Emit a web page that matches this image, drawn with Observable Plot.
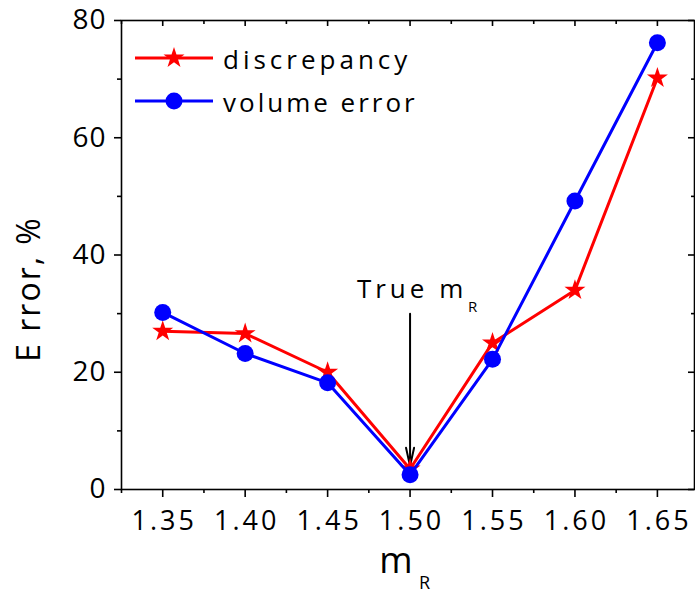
<!DOCTYPE html>
<html><head><meta charset="utf-8">
<script src="https://cdn.jsdelivr.net/npm/d3@7"></script>
<script src="https://cdn.jsdelivr.net/npm/@observablehq/plot@0.6"></script>
<style>
body{margin:0;background:#fff}
#chart{position:relative;width:695px;height:593px}
</style>
</head><body><div id="chart"></div>
<script>
// ---- data ----
const mR = [1.35, 1.40, 1.45, 1.50, 1.55, 1.60, 1.65];
const discrepancy = [27.0, 26.6, 20.0, 3.5, 25.0, 34.0, 70.2];
const volumeError = [30.2, 23.2, 18.2, 2.5, 22.2, 49.2, 76.2];
const seriesNames = ["discrepancy", "volume error"];
const seriesColors = ["#ff0000", "#0000ff"];
const xMajor = [1.35, 1.40, 1.45, 1.50, 1.55, 1.60, 1.65];
const xMinor = [1.325, 1.375, 1.425, 1.475, 1.525, 1.575, 1.625];
const yMajor = [0, 20, 40, 60, 80];
const yMinor = [10, 30, 50, 70];
const xTitle = "m";
const xTitleSub = "R";
const yTitle = "E rror, %";
const annotText = "True m";
const annotSub = "R";
const annotX = 1.50;
const annotTop = 30;
const annotTip = 4.0;
const annotTextY = 32.6;

// ---- layout ----
const W = 695, H = 593, mL = 121, mT = 20, mB = 104, mRgt = 1;
const innerW = W - mL - mRgt, innerH = H - mT - mB;
const FONT = "'Open Sans', sans-serif";

const rows = mR.map((m, i) => ({m, d: discrepancy[i], v: volumeError[i]}));

const plot = Plot.plot({
  width: W, height: H,
  marginLeft: mL, marginTop: mT, marginBottom: mB, marginRight: mRgt,
  style: {fontFamily: FONT, fontSize: "27px", color: "black", background: "white", overflow: "visible"},
  x: {domain: [1.325, 1.6725]},
  y: {domain: [0, 80]},
  marks: [
    Plot.frame({stroke: "black", strokeWidth: 1.6}),
    Plot.axisX(xMajor, {anchor: "bottom", tickSize: 8, tickPadding: 13, strokeWidth: 1.6,
      tickFormat: d => d.toFixed(2), label: null, fontSize: 27}),
    Plot.axisX(xMinor, {anchor: "bottom", tickSize: 4, strokeWidth: 1.6, tickFormat: () => "", label: null}),
    Plot.axisY(yMajor, {anchor: "left", tickSize: 7, tickPadding: 8, strokeWidth: 1.6,
      tickFormat: d => String(d), label: null, fontSize: 28}),
    Plot.axisY(yMinor, {anchor: "left", tickSize: 4, strokeWidth: 1.6, tickFormat: () => "", label: null}),
    Plot.tickX(xMajor, {x: d => d, insetBottom: innerH - 6, strokeWidth: 1.6}),
    Plot.tickX(xMinor, {x: d => d, insetBottom: innerH - 4, strokeWidth: 1.6}),
    Plot.tickY(yMajor, {y: d => d, insetLeft: innerW - 6, strokeWidth: 1.6}),
    Plot.tickY(yMinor, {y: d => d, insetLeft: innerW - 3, strokeWidth: 1.6}),
    Plot.arrow([0], {x1: () => annotX, x2: () => annotX, y1: () => annotTop, y2: () => annotTip,
      stroke: "black", strokeWidth: 2, headLength: 14, headAngle: 25}),
    Plot.text([0], {x: () => annotX, y: () => annotTextY, text: () => annotText, lineAnchor: "bottom",
      textAnchor: "middle", fontSize: 26, dx: 2}),
    Plot.text([0], {x: () => annotX, y: () => annotTextY, text: () => annotSub, lineAnchor: "bottom",
      textAnchor: "start", fontSize: 15, dx: 58, dy: 14}),
    Plot.line(rows, {x: "m", y: "d", stroke: seriesColors[0], strokeWidth: 3}),
    Plot.dot(rows, {x: "m", y: "d", symbol: "star", r: 6.6, fill: seriesColors[0], stroke: "none"}),
    Plot.line(rows, {x: "m", y: "v", stroke: seriesColors[1], strokeWidth: 3}),
    Plot.dot(rows, {x: "m", y: "v", symbol: "circle", r: 8.5, fill: seriesColors[1], stroke: "none"})
  ]
});
document.getElementById("chart").appendChild(plot);

const svg = d3.select(plot);
svg.selectAll('g[aria-label="x-axis tick label"] text').attr("letter-spacing", "3px").attr("dx", "1.5");
svg.selectAll('g[aria-label="y-axis tick label"] text').attr("letter-spacing", "1px");
svg.selectAll('g[aria-label="text"] text').filter(function(){ return this.textContent === annotText; })
  .attr("letter-spacing", "4px");

// ---- axis titles & legend ----
svg.append("text").attr("transform", "translate(40,289) rotate(-90)")
  .attr("text-anchor", "middle").attr("font-family", FONT).attr("font-size", 32)
  .attr("letter-spacing", "2px").attr("fill", "black").text(yTitle);
svg.append("text").attr("x", 396).attr("y", 573).attr("text-anchor", "middle")
  .attr("font-family", FONT).attr("font-size", 36).attr("fill", "black").text(xTitle);
svg.append("text").attr("x", 419).attr("y", 589).attr("text-anchor", "start")
  .attr("font-family", FONT).attr("font-size", 18).attr("fill", "black").text(xTitleSub);

const legendSymbols = [d3.symbolStar, d3.symbolCircle];
const legendSizes = [6.6 * 6.6 * Math.PI, 8.5 * 8.5 * Math.PI];
const legendY = [58, 101];
seriesNames.forEach((name, i) => {
  const g = svg.append("g");
  g.append("line").attr("x1", 135).attr("x2", 213).attr("y1", legendY[i]).attr("y2", legendY[i])
    .attr("stroke", seriesColors[i]).attr("stroke-width", 3);
  g.append("path").attr("transform", `translate(174,${legendY[i]})`)
    .attr("d", d3.symbol(legendSymbols[i], legendSizes[i])()).attr("fill", seriesColors[i]);
  g.append("text").attr("x", 223).attr("y", legendY[i] + 11).attr("text-anchor", "start")
    .attr("font-family", FONT).attr("font-size", 26).attr("letter-spacing", i === 0 ? "4px" : "3px")
    .attr("fill", "black").text(name);
});
</script>
</body></html>
